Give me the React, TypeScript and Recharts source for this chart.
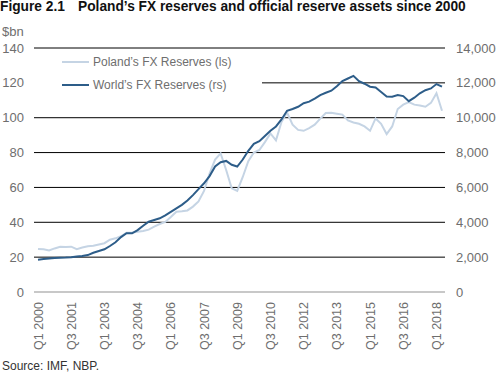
import React from 'react';
import { LineChart, Line, XAxis, YAxis, CartesianGrid } from 'recharts';

const quarters = [
  'Q1 2000', 'Q2 2000', 'Q3 2000', 'Q4 2000',
  'Q1 2001', 'Q2 2001', 'Q3 2001', 'Q4 2001',
  'Q1 2002', 'Q2 2002', 'Q3 2002', 'Q4 2002',
  'Q1 2003', 'Q2 2003', 'Q3 2003', 'Q4 2003',
  'Q1 2004', 'Q2 2004', 'Q3 2004', 'Q4 2004',
  'Q1 2005', 'Q2 2005', 'Q3 2005', 'Q4 2005',
  'Q1 2006', 'Q2 2006', 'Q3 2006', 'Q4 2006',
  'Q1 2007', 'Q2 2007', 'Q3 2007', 'Q4 2007',
  'Q1 2008', 'Q2 2008', 'Q3 2008', 'Q4 2008',
  'Q1 2009', 'Q2 2009', 'Q3 2009', 'Q4 2009',
  'Q1 2010', 'Q2 2010', 'Q3 2010', 'Q4 2010',
  'Q1 2011', 'Q2 2011', 'Q3 2011', 'Q4 2011',
  'Q1 2012', 'Q2 2012', 'Q3 2012', 'Q4 2012',
  'Q1 2013', 'Q2 2013', 'Q3 2013', 'Q4 2013',
  'Q1 2014', 'Q2 2014', 'Q3 2014', 'Q4 2014',
  'Q1 2015', 'Q2 2015', 'Q3 2015', 'Q4 2015',
  'Q1 2016', 'Q2 2016', 'Q3 2016', 'Q4 2016',
  'Q1 2017', 'Q2 2017', 'Q3 2017', 'Q4 2017',
  'Q1 2018', 'Q2 2018',
];

const polandFx = [
  24.7, 24.5, 23.8, 25.0, 26.0, 25.8, 26.0, 24.6, 25.5, 26.3,
  26.6, 27.3, 28.0, 30.0, 30.8, 32.0, 34.0, 34.2, 34.6, 35.0,
  35.8, 37.5, 39.0, 40.2, 43.0, 46.0, 46.3, 46.8, 49.0, 52.0,
  58.0, 68.0, 76.0, 79.5, 70.0, 59.5, 58.0, 66.0, 75.0, 80.0,
  81.5, 86.0, 91.0, 87.0, 97.5, 103.0, 96.0, 93.0, 92.5, 94.0,
  96.0, 99.5, 102.7, 102.8, 102.3, 101.8, 98.5, 97.3, 96.5, 95.0,
  92.5, 99.6, 96.5, 90.6, 95.0, 105.0, 107.5, 109.0, 107.5, 107.0,
  106.3, 108.5, 114.0, 104.0,
];

const worldFx = [
  1850, 1890, 1920, 1950, 1970, 1980, 2000, 2030, 2060, 2120,
  2250, 2350, 2450, 2640, 2850, 3150, 3370, 3370, 3550, 3800,
  4030, 4130, 4230, 4400, 4600, 4800, 5000, 5250, 5560, 5900,
  6240, 6650, 7200, 7450, 7520, 7300, 7200, 7600, 8100, 8500,
  8650, 8950, 9250, 9500, 9900, 10400, 10500, 10630, 10830, 10920,
  11100, 11300, 11430, 11550, 11800, 12100, 12250, 12400, 12100, 11950,
  11780, 11730, 11480, 11220, 11200, 11300, 11240, 10950, 11150, 11400,
  11580, 11680, 11930, 11780,
];

const leftTicks = [0, 20, 40, 60, 80, 100, 120, 140];
const rightTicks = [0, 2000, 4000, 6000, 8000, 10000, 12000, 14000];
const gridValues = [20, 40, 60, 80, 100, 120, 140];
const seriesNames = ['Poland\u2019s FX Reserves (ls)', 'World\u2019s FX Reserves (rs)'];
const seriesColors = ['#c5d4e4', '#2d5d89'];

const data = quarters.map((q, i) => ({ q, poland: polandFx[i], world: worldFx[i] }));

const FONT = '"Liberation Sans", Arial, Helvetica, sans-serif';
const GRAY = '#6e6e6e';

const RotTick = (props: any) => {
  const { x, y, payload } = props;
  return (
    <text
      x={x}
      y={y}
      transform={`rotate(-90, ${x}, ${y})`}
      textAnchor="end"
      dy="0.36em"
      fill={GRAY}
      fontSize={12.5}
      fontFamily={FONT}
    >
      {payload.value}
    </text>
  );
};

const fmt = (v: number) => v.toLocaleString('en-US');

export default function App() {
  return (
    <div style={{ position: 'absolute', left: 0, top: 0, width: 497, height: 372, background: '#fff', fontFamily: FONT }}>
      <div style={{ position: 'absolute', left: 0, top: -1, fontSize: 13.75, lineHeight: '16px', fontWeight: 'bold', color: '#111', whiteSpace: 'nowrap' }}>
        Figure 2.1
      </div>
      <div style={{ position: 'absolute', left: 78, top: -1, fontSize: 13.75, lineHeight: '16px', fontWeight: 'bold', color: '#111', whiteSpace: 'nowrap' }}>
        Poland’s FX reserves and official reserve assets since 2000
      </div>
      <div style={{ position: 'absolute', left: 2, top: 24, fontSize: 13, lineHeight: '16px', color: GRAY }}>$bn</div>
      <div style={{ position: 'absolute', left: 0, top: 0 }}>
        <LineChart width={497} height={372} data={data} margin={{ top: 48, right: 0, bottom: 0, left: 0 }} style={{ fontFamily: FONT }}>
          <CartesianGrid yAxisId="left" vertical={false} horizontalValues={gridValues} stroke="#000" strokeWidth={1} />
          <XAxis
            dataKey="q"
            interval={5}
            tick={<RotTick />}
            tickLine={false}
            tickMargin={4}
            axisLine={{ stroke: '#c8c8c8', strokeWidth: 2 }}
            height={80}
            padding={{ left: 4, right: 3 }}
          />
          <YAxis
            yAxisId="left"
            orientation="left"
            domain={[0, 140]}
            ticks={leftTicks}
            axisLine={false}
            tickLine={false}
            tickMargin={4}
            width={34}
            tick={{ fill: GRAY, fontSize: 13, fontFamily: FONT }}
          />
          <YAxis
            yAxisId="right"
            orientation="right"
            domain={[0, 14000]}
            ticks={rightTicks}
            axisLine={false}
            tickLine={false}
            tickMargin={5}
            width={52}
            tickFormatter={fmt}
            tick={{ fill: GRAY, fontSize: 13, fontFamily: FONT }}
          />
          <Line yAxisId="left" type="linear" dataKey="poland" name={seriesNames[0]} stroke={seriesColors[0]} strokeWidth={2} dot={false} isAnimationActive={false} />
          <Line yAxisId="right" type="linear" dataKey="world" name={seriesNames[1]} stroke={seriesColors[1]} strokeWidth={2} dot={false} isAnimationActive={false} />
        </LineChart>
      </div>
      <div style={{ position: 'absolute', left: 34, top: 52, width: 228, height: 56, background: '#fff' }}>
        {seriesNames.map((n, i) => (
          <div key={n} style={{ position: 'absolute', left: 0, top: 2 + i * 23, height: 16, display: 'flex', alignItems: 'center' }}>
            <div style={{ marginLeft: 28, width: 27, height: 2, background: seriesColors[i] }} />
            <div style={{ marginLeft: 4, fontSize: 12, lineHeight: '16px', color: GRAY, whiteSpace: 'nowrap' }}>{n}</div>
          </div>
        ))}
      </div>
      <div style={{ position: 'absolute', left: 2, top: 358, fontSize: 12, lineHeight: '16px', color: '#333' }}>Source: IMF, NBP.</div>
    </div>
  );
}
